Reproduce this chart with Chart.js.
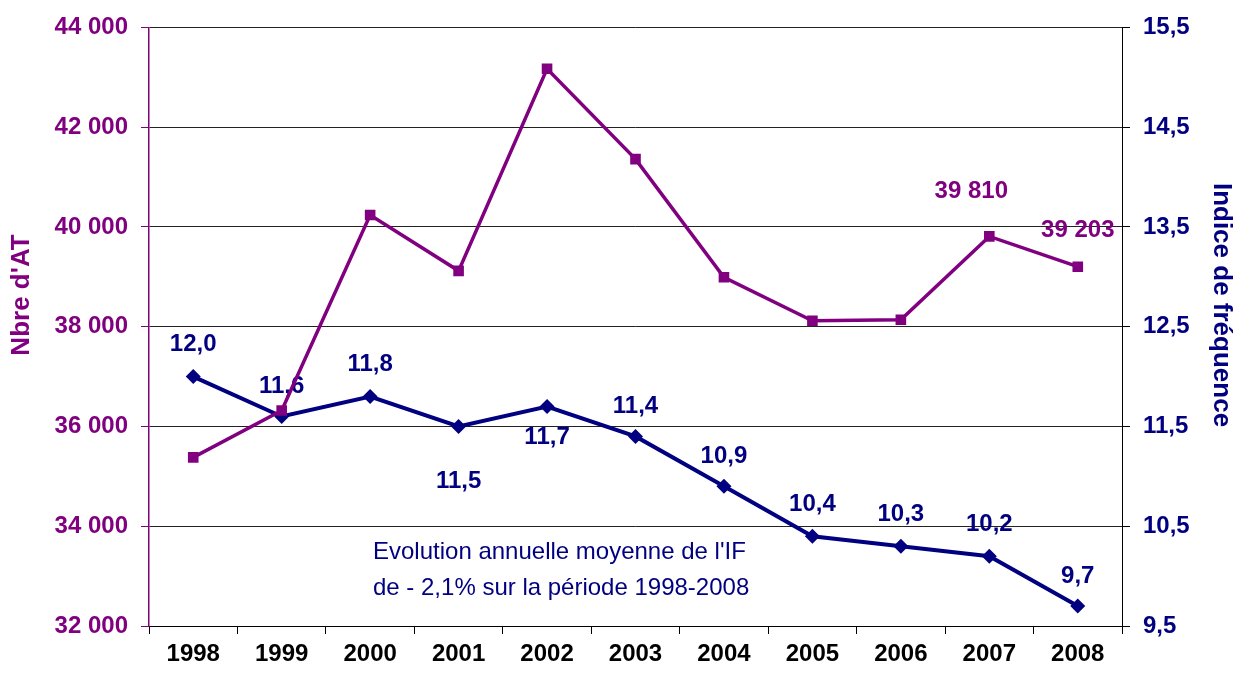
<!DOCTYPE html>
<html>
<head>
<meta charset="utf-8">
<script src="https://cdn.jsdelivr.net/npm/chart.js@4"></script>
<style>
html,body{margin:0;padding:0;background:#fff;}
canvas{display:block;}
</style>
</head>
<body>
<canvas id="c" width="1237" height="673"></canvas>
<script>
const years = ['1998','1999','2000','2001','2002','2003','2004','2005','2006','2007','2008'];
const nbreAT = [35380, 36320, 40240, 39120, 43170, 41360, 38990, 38120, 38140, 39810, 39203];
const indiceFreq = [12.0, 11.6, 11.8, 11.5, 11.7, 11.4, 10.9, 10.4, 10.3, 10.2, 9.7];
const nbreLabelShown = [false,false,false,false,false,false,false,false,false,true,true];
const leftTitle = "Nbre d'AT";
const rightTitle = "Indice de fréquence";
const noteLines = ["Evolution annuelle moyenne de l'IF", "de - 2,1% sur la période 1998-2008"];

// label placement (pixels relative to point)
const indiceLabelDy = [-32,-30,-32,55,31,-30,-30,-32,-32,-32,-30];
const nbreLabelOffset = [null,null,null,null,null,null,null,null,null,[-18,-45],[0,-36]];

const PURPLE = '#800080';
const NAVY = '#000080';
const FONT = 'Arial, "Liberation Sans", sans-serif';

function fmtThousands(v){ return String(v).replace(/\B(?=(\d{3})+(?!\d))/g, ' '); }
function fmtComma(v){ return Number(v).toFixed(1).replace('.', ','); }

const labelPlugin = {
  id: 'labels',
  afterDatasetDraw(chart, args) {
    const ctx = chart.ctx;
    const meta = args.meta;
    ctx.save();
    ctx.font = 'bold 24px ' + FONT;
    ctx.textAlign = 'center';
    ctx.textBaseline = 'middle';
    if (args.index === 1) {
      ctx.fillStyle = NAVY;
      meta.data.forEach((pt, i) => {
        ctx.fillText(fmtComma(indiceFreq[i]), pt.x, pt.y + indiceLabelDy[i]);
      });
    } else if (args.index === 0) {
      ctx.fillStyle = PURPLE;
      meta.data.forEach((pt, i) => {
        if (!nbreLabelShown[i]) return;
        const o = nbreLabelOffset[i];
        ctx.fillText(fmtThousands(nbreAT[i]), pt.x + o[0], pt.y + o[1]);
      });
    }
    ctx.restore();
  },
  afterDraw(chart) {
    const ctx = chart.ctx;
    ctx.save();
    ctx.font = 'bold 26px ' + FONT;
    ctx.textAlign = 'center';
    ctx.textBaseline = 'middle';
    ctx.fillStyle = PURPLE;
    ctx.translate(22, 295);
    ctx.rotate(-Math.PI/2);
    ctx.fillText(leftTitle, 0, 0);
    ctx.restore();

    ctx.save();
    ctx.font = 'bold 26px ' + FONT;
    ctx.textAlign = 'center';
    ctx.textBaseline = 'middle';
    ctx.fillStyle = NAVY;
    ctx.translate(1221, 305);
    ctx.rotate(Math.PI/2);
    ctx.fillText(rightTitle, 0, 0);
    ctx.restore();

    ctx.save();
    ctx.font = '24px ' + FONT;
    ctx.textAlign = 'left';
    ctx.textBaseline = 'middle';
    ctx.fillStyle = NAVY;
    ctx.fillText(noteLines[0], 373, 552);
    ctx.fillText(noteLines[1], 373, 588);
    ctx.restore();
  }
};

new Chart(document.getElementById('c'), {
  type: 'line',
  data: {
    labels: years,
    datasets: [
      {
        label: leftTitle,
        data: nbreAT,
        yAxisID: 'y',
        borderColor: PURPLE,
        backgroundColor: PURPLE,
        borderWidth: 3.5,
        pointStyle: 'rect',
        pointRadius: 7.5,
        pointHoverRadius: 7.5,
        pointBorderWidth: 0,
        tension: 0,
        order: 0
      },
      {
        label: rightTitle,
        data: indiceFreq,
        yAxisID: 'y1',
        borderColor: NAVY,
        backgroundColor: NAVY,
        borderWidth: 4,
        pointStyle: 'rectRot',
        pointRadius: 7.5,
        pointHoverRadius: 7.5,
        pointBorderWidth: 0,
        tension: 0,
        order: 1
      }
    ]
  },
  options: {
    responsive: false,
    animation: false,
    events: [],
    layout: { padding: { top: 26, left: 0, right: 0, bottom: 0 } },
    plugins: { legend: { display: false }, tooltip: { enabled: false } },
    scales: {
      x: {
        offset: true,
        grid: { offset: true, drawOnChartArea: false, tickLength: 8, color: '#000', lineWidth: 1 },
        border: { color: '#000', width: 1 },
        ticks: { color: '#000', font: { family: FONT, size: 24, weight: 'bold' }, padding: 6, maxRotation: 0, autoSkip: false },
        afterFit(s) { s.height = 47; }
      },
      y: {
        position: 'left',
        min: 32000, max: 44000,
        grid: { color: '#222', lineWidth: 1, tickLength: 8, tickColor: PURPLE },
        border: { color: PURPLE, width: 1.5 },
        ticks: { stepSize: 2000, color: PURPLE, font: { family: FONT, size: 24, weight: 'bold' }, padding: 13,
                 callback: v => fmtThousands(v) },
        afterFit(s) { s.width = 149; }
      },
      y1: {
        position: 'right',
        min: 9.5, max: 15.5,
        grid: { drawOnChartArea: false, tickLength: 8, color: '#000' },
        border: { color: '#000', width: 1 },
        ticks: { stepSize: 1, color: NAVY, font: { family: FONT, size: 24, weight: 'bold' }, padding: 13,
                 callback: v => fmtComma(v) },
        afterFit(s) { s.width = 115; }
      }
    }
  },
  plugins: [labelPlugin]
});
</script>
</body>
</html>
